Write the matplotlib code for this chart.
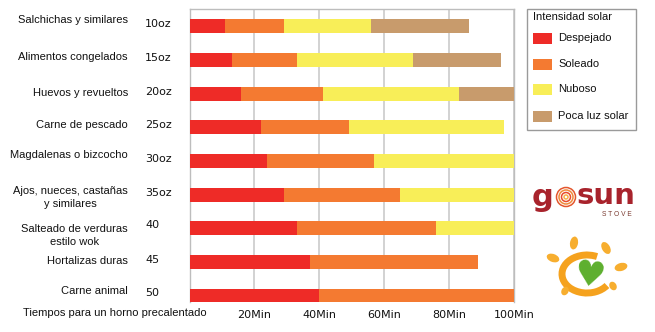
import matplotlib
matplotlib.use("Agg")
import matplotlib.pyplot as plt
from matplotlib import transforms
from matplotlib.patches import Rectangle, Ellipse, Arc, Circle
import numpy as np

# ---------------- data ----------------
categories = ["Salchichas y similares", "Alimentos congelados", "Huevos y revueltos",
              "Carne de pescado", "Magdalenas o bizcocho",
              "Ajos, nueces, castañas\ny similares", "Salteado de verduras\nestilo wok",
              "Hortalizas duras", "Carne animal"]
weights = ["10oz", "15oz", "20oz", "25oz", "30oz", "35oz", "40", "45", "50"]
series_names = ["Despejado", "Soleado", "Nuboso", "Poca luz solar"]
despejado = [11, 13, 16, 22, 24, 29, 33, 37, 40]
soleado = [18, 20, 25, 27, 33, 36, 43, 52, 60]
nuboso = [27, 36, 42, 48, 43, 35, 24, 0, 0]
poca_luz = [30, 27, 17, 0, 0, 0, 0, 0, 0]
xticks = [20, 40, 60, 80, 100]
xtick_labels = ["20Min", "40Min", "60Min", "80Min", "100Min"]
legend_title = "Intensidad solar"
x_title = "Tiempos para un horno precalentado"

colors = ["#EE2B27", "#F47A31", "#F8EE58", "#C89B6C"]

W, H = 655, 332
fig = plt.figure(figsize=(W / 100, H / 100), dpi=100)
fig.patch.set_facecolor("white")

def fx(px):
    return px / W

def fy(py):
    return 1 - py / H

ax_l, ax_r, ax_t, ax_b = 189.5, 514, 9, 302
ax = fig.add_axes([fx(ax_l), fy(ax_b), fx(ax_r - ax_l), (ax_b - ax_t) / H])

series = [despejado, soleado, nuboso, poca_luz]
n = len(categories)
ypos = np.arange(n)
left = np.zeros(n)
bar_h = 0.415
for vals, col, name in zip(series, colors, series_names):
    v = np.array(vals, dtype=float)
    ax.barh(ypos, v, left=left, height=bar_h, color=col, label=name, zorder=3, linewidth=0)
    left += v

ax.set_xlim(0, 100)
ax.set_ylim(8.178, -0.504)
ax.set_xticks(xticks)
ax.set_xticklabels(xtick_labels, fontsize=8, family="DejaVu Sans", color="#111111")
ax.tick_params(axis="x", length=0, pad=6)
ax.set_yticks([])
ax.xaxis.grid(True, color="#CFCFCF", linewidth=1.3, zorder=0)
ax.set_axisbelow(True)
for s in ax.spines.values():
    s.set_color("#BDBDBD")
    s.set_linewidth(1.0)
ax.spines["bottom"].set_visible(False)

# category labels and weights
blend = transforms.blended_transform_factory(ax.transAxes, ax.transData)
label_dy = [-6, -3, -1, -2, -6, 3, 7, -1, -5]
oz_dy = [-2, -2, -2, -2, -2, -2, -3, -2, -3]
xl = (128 - ax_l) / (ax_r - ax_l)
xo = (145 - ax_l) / (ax_r - ax_l)
for i, (cat, w) in enumerate(zip(categories, weights)):
    t1 = transforms.offset_copy(blend, fig=fig, x=0, y=-label_dy[i], units="dots")
    ax.text(xl, i, cat, transform=t1, ha="right", va="center", multialignment="center",
            fontsize=8, family="Liberation Sans", color="#111111", linespacing=1.4)
    t2 = transforms.offset_copy(blend, fig=fig, x=0, y=-oz_dy[i], units="dots")
    ax.text(xo, i, w, transform=t2, ha="left", va="center",
            fontsize=8, family="DejaVu Sans", color="#111111")

# overlay in pixel coordinates
ov = fig.add_axes([0, 0, 1, 1], zorder=5)
ov.set_xlim(0, W)
ov.set_ylim(H, 0)
ov.axis("off")
ov.patch.set_visible(False)

ov.text(23, 313, x_title, ha="left", va="center", fontsize=8, family="Liberation Sans",
        color="#111111")

# legend box
ov.add_patch(Rectangle((527, 8.5), 109, 121.5, facecolor="white", edgecolor="#9A9A9A",
                       linewidth=1.0))
ov.text(533, 17, legend_title, ha="left", va="center", fontsize=8,
        family="Liberation Sans", color="#111111")
leg_y = [38, 64, 89.5, 116]
for yy, col, name in zip(leg_y, colors, series_names):
    ov.add_patch(Rectangle((533, yy - 5.5), 19, 11, facecolor=col, edgecolor="none"))
    ov.text(558, yy, name, ha="left", va="center", fontsize=8,
            family="Liberation Sans", color="#111111")

# gosun logo
dark_red = "#A8232C"
ov.text(532, 198, "g", ha="left", va="center", fontsize=22, fontweight="bold",
        family="DejaVu Sans", color=dark_red)
for r, c in [(9.5, "#E4572E"), (7, "#F08A3A"), (4.5, "#E94B2A"), (2, "#F6B04A")]:
    ov.add_patch(Circle((566, 197), r, facecolor="none", edgecolor=c, linewidth=1.1))
ov.text(577, 196, "sun", ha="left", va="center", fontsize=21, fontweight="bold",
        family="DejaVu Sans", color=dark_red)
ov.text(602, 214, "S T O V E", ha="left", va="center", fontsize=4.8,
        family="Liberation Sans", color="#7A3A30")

# sun + heart logo
orange = "#F5A21E"
ov.add_patch(Arc((587, 274), 50, 38, angle=0, theta1=30, theta2=300,
                 color=orange, linewidth=5.0))
ov.text(590, 276, "\u2665", ha="center", va="center", fontsize=25, color="#5DAF2E",
        family="DejaVu Sans", rotation=-8)
drops = [(574, 243, 8, 13, 10), (606, 248, 8, 13, -30), (553, 258, 13, 8, 20),
         (621, 267, 13, 8, -15), (565, 291, 7, 9, 30), (613, 286, 7, 9, -30)]
for (cx, cy, w_, h_, a_) in drops:
    ov.add_patch(Ellipse((cx, cy), w_, h_, angle=a_, facecolor="#F7AE2F", edgecolor="none"))

fig.savefig("out.png", dpi=100, facecolor="white")
